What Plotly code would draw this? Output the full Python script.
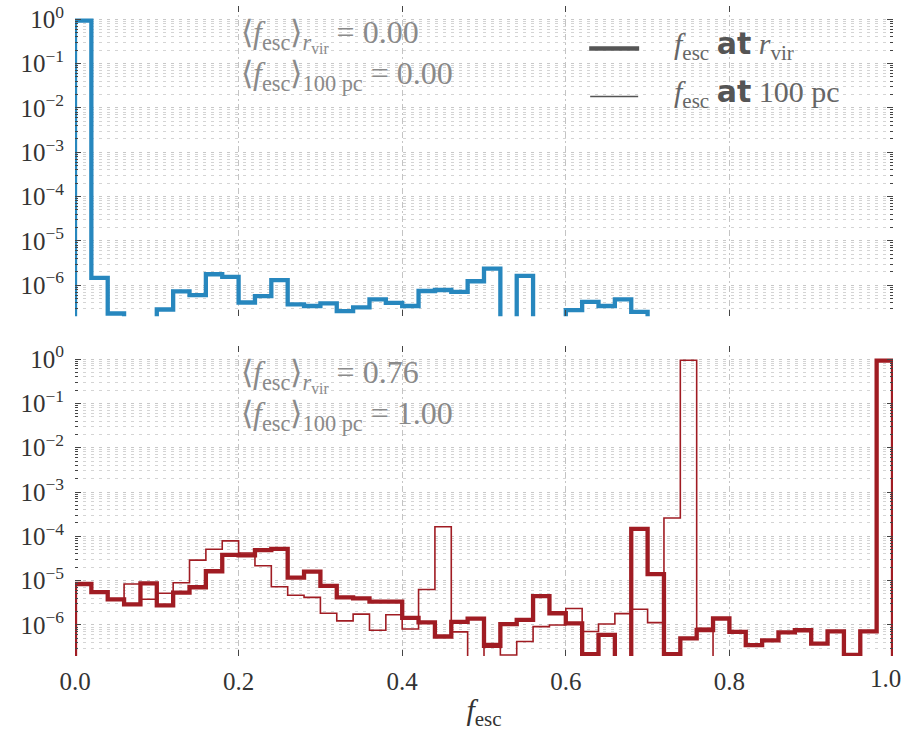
import numpy as np
import plotly.graph_objects as go

# ---------------- data ----------------
bin_edges = [round(i * 0.02, 2) for i in range(51)]

# top panel (blue) - f_esc at r_vir (identical at 100 pc)
top_rvir = [0.93, 1.46e-6, 2.3e-7, 0, 0, 2.83e-7, 7.3e-7, 5.95e-7, 1.77e-6, 1.54e-6,
            4.07e-7, 5.7e-7, 1.3e-6, 3.7e-7, 3.4e-7, 3.9e-7, 2.6e-7, 3.15e-7, 4.8e-7, 4.0e-7,
            3.4e-7, 7.4e-7, 7.8e-7, 7.1e-7, 1.23e-6, 2.38e-6, 0, 1.62e-6, 0, 0,
            2.73e-7, 4.2e-7, 3.4e-7, 4.8e-7, 2.5e-7, 0, 0, 0, 0, 0,
            0, 0, 0, 0, 0, 0, 0, 0, 0, 0]

# bottom panel (red) - thick: at r_vir
bot_rvir = [8.4e-6, 5.5e-6, 3.8e-6, 2.93e-6, 8.7e-6, 2.78e-6, 5.35e-6, 7.1e-6, 1.63e-5, 3.8e-5,
            3.72e-5, 4.9e-5, 5.2e-5, 1.17e-5, 1.6e-5, 7.6e-6, 4.2e-6, 3.97e-6, 3.35e-6, 3.35e-6,
            1.44e-6, 1.14e-6, 5.5e-7, 1.17e-6, 1.39e-6, 3.4e-7, 1.05e-6, 1.3e-6, 4.5e-6, 1.84e-6,
            1.09e-6, 2.2e-7, 6.0e-7, 0, 1.48e-4, 1.41e-5, 2.2e-7, 5.0e-7, 7.7e-7, 1.4e-6,
            7.0e-7, 3.5e-7, 4.5e-7, 6.8e-7, 7.6e-7, 3.8e-7, 7.2e-7, 2.1e-7, 7.2e-7, 0.92]

# bottom panel (red) - thin: at 100 pc
bot_100pc = [8.4e-6, 5.5e-6, 3.8e-6, 8.4e-6, 3.8e-6, 5.2e-6, 9.0e-6, 2.9e-5, 5.1e-5, 7.9e-5,
             4.2e-5, 2.17e-5, 7.3e-6, 4.7e-6, 4.2e-6, 1.84e-6, 1.24e-6, 1.76e-6, 7.6e-7, 1.7e-6,
             8.1e-7, 6.3e-6, 1.64e-4, 7.0e-7, 0, 3.8e-7, 2.1e-7, 4.25e-7, 9.2e-7, 1.0e-6,
             2.35e-6, 7.1e-7, 1.05e-6, 1.8e-6, 2.26e-6, 1.13e-6, 2.6e-4, 0.94, 8.4e-7, 0,
             0, 0, 0, 0, 0, 0, 0, 0, 0, 0]

mean_top = ["0.00", "0.00"]
mean_bot = ["0.76", "1.00"]

x_ticks = [0.0, 0.2, 0.4, 0.6, 0.8, 1.0]
x_ticktext = ["0.0", "0.2", "0.4", "0.6", "0.8", "1.0"]
y_exps = [0, -1, -2, -3, -4, -5, -6]

BLUE = "#2787BE"
RED = "#A01C23"
FLOOR = 1e-12


def step_xy(vals):
    xs = [bin_edges[0]] + bin_edges[:-1] + [bin_edges[-1]]
    ys = [FLOOR] + [v if v > 0 else FLOOR for v in vals] + [FLOOR]
    return xs, ys


fig = go.Figure()

# top
x, y = step_xy(top_rvir)
fig.add_trace(go.Scatter(x=x, y=y, mode="lines", line=dict(color=BLUE, width=4.3, shape="hv"),
                         xaxis="x", yaxis="y", showlegend=False, hoverinfo="skip"))
# bottom
x, y = step_xy(bot_100pc)
fig.add_trace(go.Scatter(x=x, y=y, mode="lines", line=dict(color=RED, width=1.6, shape="hv"),
                         xaxis="x2", yaxis="y2", showlegend=False, hoverinfo="skip"))
x, y = step_xy(bot_rvir)
fig.add_trace(go.Scatter(x=x, y=y, mode="lines", line=dict(color=RED, width=4.3, shape="hv"),
                         xaxis="x2", yaxis="y2", showlegend=False, hoverinfo="skip"))

TFONT = "Liberation Serif"
minor_vals = [m * 10.0 ** e for e in range(-7, 1) for m in range(2, 10)]
ytickvals = [10.0 ** e for e in y_exps]
yticktext = ["10<sup>%s</sup>" % (str(e).replace("-", "−")) for e in y_exps]
tick_font = dict(family=TFONT, size=25, color="#333")

yax = dict(type="log", range=[-6.7, 0.3], tickvals=ytickvals, ticktext=yticktext,
           ticks="inside", ticklen=6, tickwidth=1.2, tickcolor="#444", mirror="ticks",
           showline=False, zeroline=False, automargin=False,
           showgrid=True, gridcolor="#c8c8c8", griddash="3px,5px", gridwidth=1,
           minor=dict(tickvals=minor_vals, ticks="inside", ticklen=3, tickcolor="#444",
                      showgrid=True, gridcolor="#d4d4d4", griddash="3px,5px", gridwidth=1),
           tickfont=tick_font, ticklabelstandoff=10)
xax = dict(range=[-1e-9, 1 + 1e-9], tickvals=x_ticks, ticks="inside", ticklen=6, tickwidth=1.2,
           tickcolor="#444", mirror="ticks", showline=False, zeroline=False, automargin=False,
           showgrid=True, gridcolor="#c4c4c4", griddash="6px,3px,2px,3px", gridwidth=1)

# last x label is drawn as an annotation (shifted inward so it is not clipped)
bottom_ticktext = x_ticktext[:-1] + [""]

fig.update_layout(
    width=907, height=737,
    margin=dict(l=74.5, r=14, t=5.5, b=81, autoexpand=False),
    paper_bgcolor="white", plot_bgcolor="white",
    xaxis=dict(xax, domain=[0, 1], anchor="y", showticklabels=False),
    yaxis=dict(yax, domain=[0.5227, 1], anchor="x"),
    xaxis2=dict(xax, domain=[0, 1], anchor="y2", ticktext=bottom_ticktext,
                tickfont=tick_font, ticklabelstandoff=8,
                title=dict(text="<i>f</i><sub>esc</sub>", font=dict(family=TFONT, size=30, color="#333"),
                           standoff=4)),
    yaxis2=dict(yax, domain=[0, 0.4773], anchor="x2"),
)
fig.add_annotation(text=x_ticktext[-1], xref="x2", yref="y2 domain", x=x_ticks[-1], y=0,
                   xanchor="center", yanchor="top", xshift=-8, yshift=-7,
                   showarrow=False, font=tick_font)

ann_font = dict(family=TFONT, size=32, color="#8a8a8a")


def mean_labels(vals, yref, y1, y2):
    fig.add_annotation(text="⟨<i>f</i><sub>esc</sub>⟩<sub><i>r</i><sub>vir</sub></sub> = " + vals[0],
                       xref="x", yref=yref, x=0.2, y=y1, xanchor="left", yanchor="middle",
                       showarrow=False, font=ann_font)
    fig.add_annotation(text="⟨<i>f</i><sub>esc</sub>⟩<sub>100 pc</sub> = " + vals[1],
                       xref="x", yref=yref, x=0.2, y=y2, xanchor="left", yanchor="middle",
                       showarrow=False, font=ann_font)


mean_labels(mean_top, "y domain", 0.905, 0.775)
mean_labels(mean_bot, "y2 domain", 0.905, 0.775)

# legend (manual)
fig.add_shape(type="line", xref="paper", yref="paper", x0=(589 - 74.5) / 818.5, x1=(639 - 74.5) / 818.5,
              y0=(656 - 48) / 650.5, y1=(656 - 48) / 650.5, line=dict(color="#555", width=4.5))
fig.add_shape(type="line", xref="paper", yref="paper", x0=(590 - 74.5) / 818.5, x1=(638 - 74.5) / 818.5,
              y0=(656 - 96) / 650.5, y1=(656 - 96) / 650.5, line=dict(color="#555", width=1.5))
leg_font = dict(family=TFONT, size=30, color="#666")
fig.add_annotation(text="<i>f</i><sub>esc</sub> <span style='font-family:DejaVu Sans;font-weight:bold;color:#555'>at</span> <i>r</i><sub>vir</sub>",
                   xref="paper", yref="paper", x=(672 - 74.5) / 818.5, y=(656 - 45) / 650.5,
                   xanchor="left", yanchor="middle", showarrow=False, font=leg_font)
fig.add_annotation(text="<i>f</i><sub>esc</sub> <span style='font-family:DejaVu Sans;font-weight:bold;color:#555'>at</span> 100 pc",
                   xref="paper", yref="paper", x=(672 - 74.5) / 818.5, y=(656 - 93) / 650.5,
                   xanchor="left", yanchor="middle", showarrow=False, font=leg_font)

fig.write_html("out.html", config={"displayModeBar": False},
               post_script="document.body.style.margin='0px';")
